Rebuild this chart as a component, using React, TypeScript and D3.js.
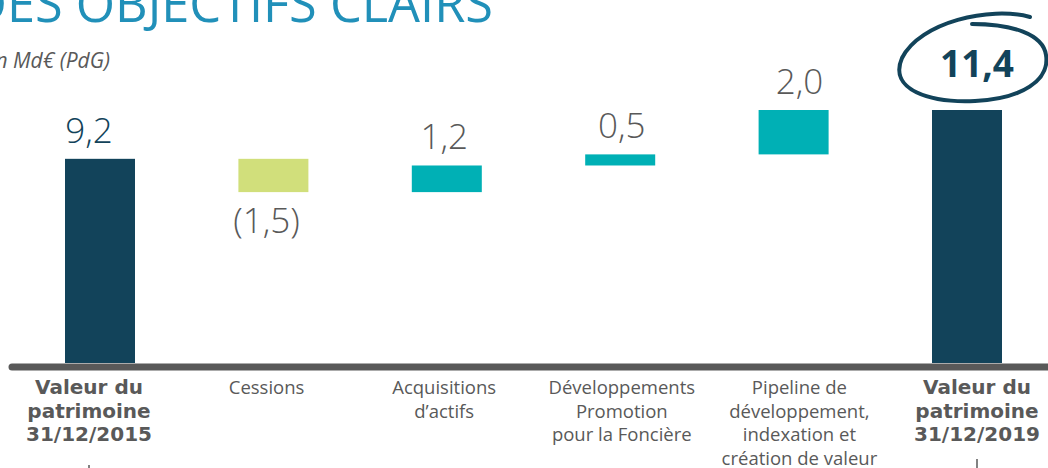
import * as d3 from 'd3'

const categories = ['2015', 'cessions', 'acquisitions', 'promotion', 'pipeline', '2019']
const values = [9.2, -1.5, 1.2, 0.5, 2.0, 11.4]
const kinds = ['total', 'delta', 'delta', 'delta', 'delta', 'total']
const valueLabels = ['9,2', '(1,5)', '1,2', '0,5', '2,0', '11,4']
const categoryLabels = [
  ['Valeur du', 'patrimoine', '31/12/2015'],
  ['Cessions'],
  ['Acquisitions', 'd\u2019actifs'],
  ['Développements', 'Promotion', 'pour la Foncière'],
  ['Pipeline de', 'développement,', 'indexation et', 'création de valeur'],
  ['Valeur du', 'patrimoine', '31/12/2019'],
]

const W = 1048
const H = 468
const NAVY = '#12435a'
const TEAL = '#00b0b5'
const GREEN = '#d1df7b'
const GRAY = '#595959'

export default function App() {
  // running totals for the waterfall
  let run = 0
  const bars = values.map((v, i) => {
    if (kinds[i] === 'total') {
      run = v
      return { key: categories[i], y0: 0, y1: v, v, i }
    }
    const start = run
    run += v
    return { key: categories[i], y0: Math.min(start, run), y1: Math.max(start, run), v, i }
  })

  const y = d3.scaleLinear().domain([0, 11.4]).range([363, 110])
  const xBar = d3.scalePoint<string>().domain(categories).range([100, 967])
  const xLabel = d3.scalePoint<string>().domain(categories).range([89, 977])
  const barW = 70

  const color = (d: typeof bars[0]) =>
    kinds[d.i] === 'total' ? NAVY : d.v < 0 ? GREEN : TEAL

  return (
    <svg width={W} height={H} style={{ position: 'absolute', left: 0, top: 0 }}>
      <text x={493} y={22} textAnchor="end" fill="#2190b9"
        style={{ fontFamily: 'Open Sans', fontSize: 50.5 }}>DES OBJECTIFS CLAIRS</text>
      <text x={110} y={68} textAnchor="end" fill={GRAY}
        style={{ fontFamily: 'Open Sans', fontSize: 21, fontStyle: 'italic' }}>en Md€ (PdG)</text>

      {bars.map(d => (
        <rect key={d.key} x={xBar(d.key)! - barW / 2} y={y(d.y1)} width={barW}
          height={y(d.y0) - y(d.y1)} fill={color(d)} />
      ))}

      <line x1={12} x2={W + 10} y1={367} y2={367} stroke={GRAY} strokeWidth={7} strokeLinecap="round" />

      {bars.map(d => {
        const isLast = d.i === bars.length - 1
        const below = d.v < 0
        const yy = below ? y(d.y0) + 41 : y(d.y1) - 16
        return (
          <text key={'v' + d.key} x={xLabel(d.key)} y={yy} textAnchor="middle"
            fill={kinds[d.i] === 'total' ? NAVY : GRAY}
            style={{ fontFamily: 'Open Sans', fontSize: isLast ? 37 : 35, fontWeight: isLast ? 700 : 300 }}
            dy={isLast ? -17 : 0}>
            {valueLabels[d.i]}
          </text>
        )
      })}

      <path d="M1030,17 C990,6 920,22 902,58 C888,90 930,103 975,101 C1022,99 1050,80 1046,55 C1043,34 1012,24 972,24"
        fill="none" stroke={NAVY} strokeWidth={4} strokeLinecap="round" />

      {categoryLabels.map((lines, i) => {
        const bold = kinds[i] === 'total'
        return (
          <text key={'c' + i} x={xLabel(categories[i])} textAnchor="middle" fill={GRAY}
            style={{ fontFamily: bold ? 'DejaVu Sans' : 'Open Sans', fontSize: bold ? 20 : 18.5, fontWeight: bold ? 700 : 400 }}>
            {lines.map((l, j) => (
              <tspan key={j} x={xLabel(categories[i])} y={394 + j * 23.7}>{l}</tspan>
            ))}
          </text>
        )
      })}

      <line x1={89} x2={89} y1={465} y2={H} stroke={GRAY} strokeWidth={1.5} />
      <line x1={977} x2={977} y1={459} y2={H} stroke={GRAY} strokeWidth={1.5} />
    </svg>
  )
}
